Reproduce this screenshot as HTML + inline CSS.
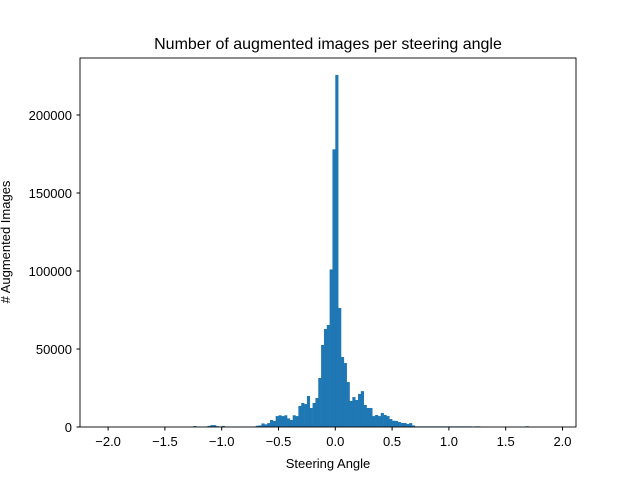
<!DOCTYPE html>
<html><head><meta charset="utf-8"><style>body{margin:0;background:#fff}svg{display:block;font-family:"Liberation Sans","DejaVu Sans",sans-serif}</style></head>
<body>
<svg id="chart" width="640" height="480">
<rect width="640" height="480" fill="#fff"/>
<text x="328" y="49" font-size="16" text-anchor="middle">Number of augmented images per steering angle</text>
<g id="bars"></g>
<rect x="80" y="58" width="496" height="369" fill="none" stroke="#000" stroke-width="0.9"/>
<g id="xt"></g>
<g id="yt"></g>
<text x="328" y="468" font-size="13" text-anchor="middle">Steering Angle</text>
<text transform="translate(10,242) rotate(-90)" font-size="13" text-anchor="middle"># Augmented Images</text>
</svg>
<script>
const binStart = -1.25;
const binWidth = 0.025;
const counts = [600,200,0,100,300,700,1200,1200,500,300,700,300,300,300,300,300,300,300,300,300,300,300,
800,1000,2300,1700,2500,
4500,3900,7000,7500,7000,7500,5500,4500,7500,7000,13500,15400,14700,19900,12200,15400,18600,31400,52600,62800,65400,101000,178000,225700,76300,44900,41000,28800,16700,19200,17300,21200,23000,14100,12200,12200,7000,7700,7000,9000,7700,7000,5100,4000,3900,3200,2600,2600,1900,
2500,1000,400,400,400,400,400,400,400,400,400,400,400,400,400,400,400,400,400,400,400,400,0,400,400,
100,100,100,100,100,100,100,100,100,100,100,100,100,100,100,100,500];
const xTicks = [-2.0,-1.5,-1.0,-0.5,0.0,0.5,1.0,1.5,2.0];
const xTickLabels = ["\u22122.0","\u22121.5","\u22121.0","\u22120.5","0.0","0.5","1.0","1.5","2.0"];
const yTicks = [0,50000,100000,150000,200000];
const yTickLabels = ["0","50000","100000","150000","200000"];
const NS="http://www.w3.org/2000/svg";
const xs=v=>335.3+v*113.6;
const ys=v=>427-v*(312/200000);
const bars=document.getElementById('bars');
counts.forEach((c,i)=>{
  if(c<=0)return;
  const x0=xs(binStart+i*binWidth), x1=xs(binStart+(i+1)*binWidth);
  const r=document.createElementNS(NS,'rect');
  r.setAttribute('x',x0);r.setAttribute('width',x1-x0+0.3);
  r.setAttribute('y',ys(c));r.setAttribute('height',427-ys(c));
  r.setAttribute('fill','#1f77b4');
  
  
  bars.appendChild(r);
});
const xt=document.getElementById('xt');
xTicks.forEach((v,i)=>{
  const l=document.createElementNS(NS,'line');
  l.setAttribute('x1',xs(v));l.setAttribute('x2',xs(v));l.setAttribute('y1',427);l.setAttribute('y2',430.5);l.setAttribute('stroke','#000');
  
  
  xt.appendChild(l);
  const t=document.createElementNS(NS,'text');
  t.setAttribute('x',xs(v));t.setAttribute('y',446);t.setAttribute('font-size','13');t.setAttribute('text-anchor','middle');
  t.textContent=xTickLabels[i];
  
  
  xt.appendChild(t);
});
const yt=document.getElementById('yt');
yTicks.forEach((v,i)=>{
  const l=document.createElementNS(NS,'line');
  l.setAttribute('x1',76.5);l.setAttribute('x2',80);l.setAttribute('y1',ys(v));l.setAttribute('y2',ys(v));l.setAttribute('stroke','#000');
  
  
  yt.appendChild(l);
  const t=document.createElementNS(NS,'text');
  t.setAttribute('x',72);t.setAttribute('y',ys(v)+5);t.setAttribute('font-size','13');t.setAttribute('text-anchor','end');
  t.textContent=yTickLabels[i];
  
  
  yt.appendChild(t);
});
</script>
</body></html>
